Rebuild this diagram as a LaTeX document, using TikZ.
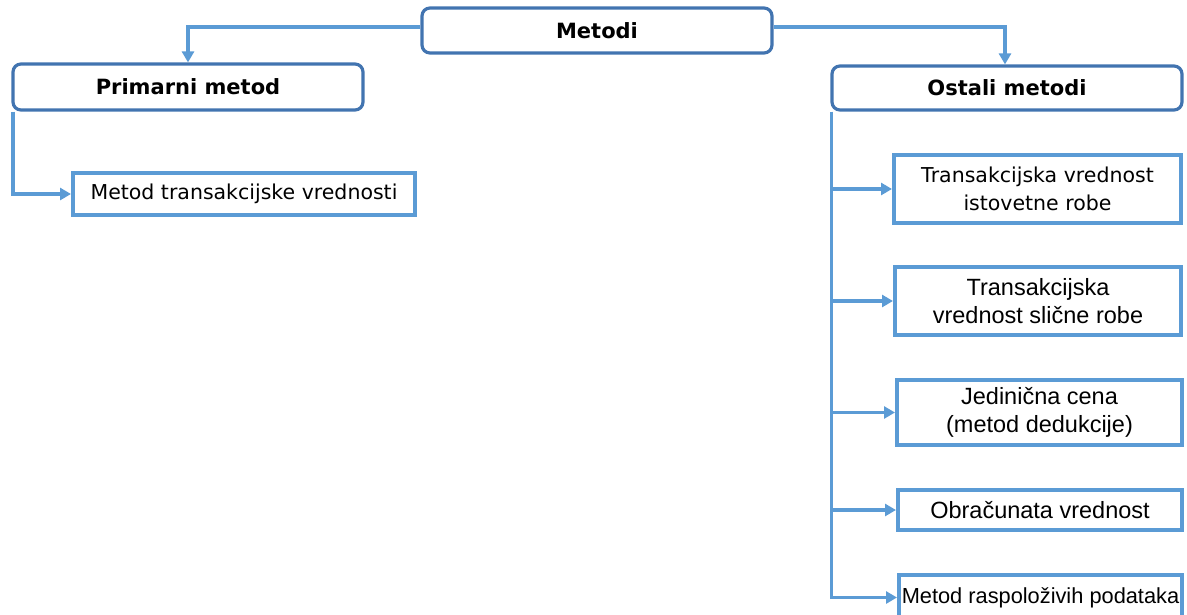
\documentclass[tikz,border=0pt]{standalone}
\usepackage{fontspec}
\setmainfont{DejaVu Sans}
\newfontfamily\arialf{Liberation Sans}
\usetikzlibrary{arrows.meta}
\definecolor{linec}{RGB}{91,155,213}
\definecolor{headc}{RGB}{66,116,176}
\begin{document}
\begin{tikzpicture}[x=1pt,y=-1pt,
  head/.style={draw=headc,line width=3.2pt,rounded corners=8pt,fill=white,
    font=\fontsize{21}{24}\selectfont\bfseries,inner sep=0pt,text=black},
  child/.style={draw=linec,line width=4pt,fill=white,inner sep=0pt,align=center,text=black},
  tah/.style={font=\fontsize{20.5}{28}\selectfont},
  ari/.style={font=\arialf\fontsize{23.5}{28}\selectfont},
  conn/.style={draw=linec,line width=3.6pt,-{Triangle[length=11pt,width=12pt]}}]
\useasboundingbox (0,0) rectangle (1187,614);
\node[head,minimum width=350pt,minimum height=45pt] (metodi) at (597,30.5) {Metodi};
\node[head,minimum width=350pt,minimum height=46pt] (prim) at (188,87) {Primarni metod};
\node[head,minimum width=350pt,minimum height=44pt] (ostali) at (1007,88) {Ostali metodi};
\node[child,tah,minimum width=342pt,minimum height=42pt] (mtv) at (244,194) {Metod transakcijske vrednosti};
\node[child,tah,minimum width=287pt,minimum height=68pt] (c1) at (1037.5,189) {Transakcijska vrednost\\istovetne robe};
\node[child,ari,minimum width=286pt,minimum height=68pt] (c2) at (1038,301) {Transakcijska\\vrednost slične robe};
\node[child,ari,minimum width=285pt,minimum height=65pt] (c3) at (1039.5,412.5) {Jedinična cena\\(metod dedukcije)};
\node[child,ari,minimum width=284pt,minimum height=40pt] (c4) at (1040,510) {Obračunata vrednost};
\node[child,font=\arialf\fontsize{21.8}{28}\selectfont,minimum width=283pt,minimum height=45pt] (c5) at (1040.5,597.5) {Metod raspoloživih podataka};
\draw[conn] ([yshift=3.5pt]metodi.west) -| (prim.north);
\draw[conn] ([yshift=3.5pt]metodi.east) -| ([xshift=-2pt]ostali.north);
\draw[conn] ([xshift=1.5pt]prim.south west) |- (mtv.west);
\coordinate (trunk) at ([xshift=1pt]ostali.south west);
\draw[conn] (trunk) |- (c5.west);
\draw[conn] (trunk |- c1.west) -- (c1.west);
\draw[conn] (trunk |- c2.west) -- (c2.west);
\draw[conn] (trunk |- c3.west) -- (c3.west);
\draw[conn] (trunk |- c4.west) -- (c4.west);
\end{tikzpicture}
\end{document}
